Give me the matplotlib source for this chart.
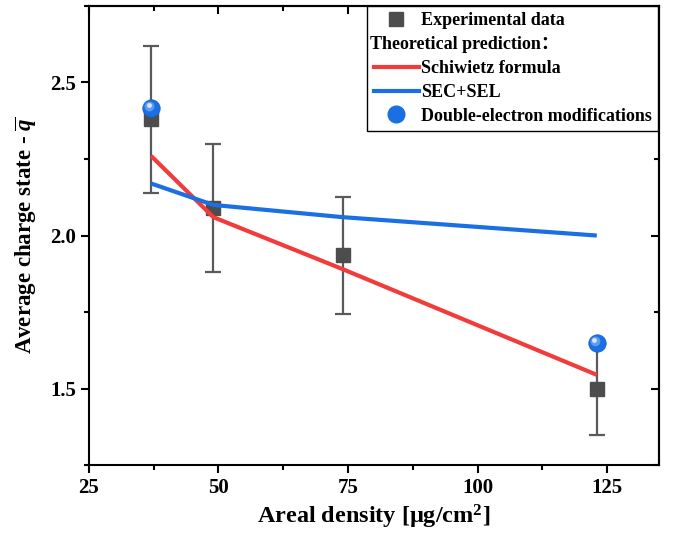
import matplotlib
matplotlib.use("Agg")
import matplotlib.pyplot as plt
from matplotlib import transforms
from matplotlib.lines import Line2D
from matplotlib.ticker import MultipleLocator

plt.rcParams['font.family'] = ['Liberation Serif', 'DejaVu Serif']
plt.rcParams['font.weight'] = 'bold'
plt.rcParams['mathtext.fontset'] = 'custom'
plt.rcParams['mathtext.rm'] = 'Liberation Serif:bold'
plt.rcParams['mathtext.it'] = 'Liberation Serif:italic:bold'
plt.rcParams['mathtext.bf'] = 'Liberation Serif:bold'

# Data
exp_x = [37, 49, 74, 123]
exp_y = [2.38, 2.09, 1.935, 1.50]
exp_err = [0.24, 0.21, 0.19, 0.15]

schiwietz_x = [37, 49, 74, 123]
schiwietz_y = [2.26, 2.06, 1.89, 1.545]

sec_x = [37, 49, 74, 123]
sec_y = [2.17, 2.10, 2.06, 2.00]

dbl_x = [37, 123]
dbl_y = [2.415, 1.65]

legend_labels = ['Experimental data', ' ', 'Schiwietz formula', 'SEC+SEL',
                 'Double-electron modifications']

fig = plt.figure(figsize=(6.79, 5.39), dpi=100)
ax = fig.add_axes([0.131, 0.137, 0.8395, 0.852])

red = '#f23c3c'
blue = '#1a6fe3'
gray = '#4d4d4d'

ax.errorbar(exp_x, exp_y, yerr=exp_err, fmt='s', color=gray, ms=10,
            ecolor='#5a5a5a', elinewidth=1.6, capsize=6, capthick=1.6, zorder=2)
ax.plot(schiwietz_x, schiwietz_y, color=red, lw=3, zorder=3,
        solid_capstyle='butt')
ax.plot(sec_x, sec_y, color=blue, lw=3, zorder=3, solid_capstyle='butt')

# sphere-like markers
ax.plot(dbl_x, dbl_y, 'o', color=blue, ms=12.5, mec='#1463d8', mew=0.6, zorder=4)
hl1 = transforms.offset_copy(ax.transData, fig=fig, x=-1.2, y=1.5, units='points')
ax.plot(dbl_x, dbl_y, 'o', color='#6fa6f5', ms=7, mec='none', alpha=0.8,
        transform=hl1, zorder=5)
hl2 = transforms.offset_copy(ax.transData, fig=fig, x=-1.8, y=2.2, units='points')
ax.plot(dbl_x, dbl_y, 'o', color='#e6f0ff', ms=3.5, mec='none', alpha=0.9,
        transform=hl2, zorder=6)

ax.set_xlim(25, 135)
ax.set_ylim(1.25, 2.75)
ax.xaxis.set_major_locator(MultipleLocator(25))
ax.xaxis.set_minor_locator(MultipleLocator(12.5))
ax.yaxis.set_major_locator(MultipleLocator(0.5))
ax.yaxis.set_minor_locator(MultipleLocator(0.25))

ax.tick_params(which='both', direction='out', width=1.5, labelsize=15,
               top=False, right=False)
ax.tick_params(which='major', length=6)
ax.tick_params(which='minor', length=3.5)
ax2 = ax.secondary_xaxis('top')
ax2.xaxis.set_major_locator(MultipleLocator(25))
ax2.xaxis.set_minor_locator(MultipleLocator(12.5))
ax2.tick_params(which='both', direction='in', width=1.5, labeltop=False)
ax2.tick_params(which='major', length=6)
ax2.tick_params(which='minor', length=3.5)
ax3 = ax.secondary_yaxis('right')
ax3.yaxis.set_major_locator(MultipleLocator(0.5))
ax3.yaxis.set_minor_locator(MultipleLocator(0.25))
ax3.tick_params(which='both', direction='in', width=1.5, labelright=False)
ax3.tick_params(which='major', length=6)
ax3.tick_params(which='minor', length=3.5)
for a in (ax, ax2, ax3):
    for s in a.spines.values():
        s.set_linewidth(1.5)

for lab in ax.get_xticklabels() + ax.get_yticklabels():
    lab.set_fontweight('bold')

ax.set_xlabel(r'Areal density [μg/cm$^\mathbf{2}$]', fontsize=17.5,
              fontweight='bold', labelpad=3)
ax.set_ylabel(r'Average charge state - $\overline{q}$', fontsize=16.5,
              fontweight='bold', labelpad=8)

# legend
h_exp = Line2D([], [], marker='s', color=gray, ls='none', ms=10)
h_blank = Line2D([], [], color='none')
h_red = Line2D([], [], color=red, lw=3)
h_blue = Line2D([], [], color=blue, lw=3)
h_dbl = Line2D([], [], marker='o', color=blue, ls='none', ms=12)
leg = ax.legend([h_exp, h_blank, h_red, h_blue, h_dbl], legend_labels,
                loc='upper right', bbox_to_anchor=(0.998, 1.0), borderaxespad=0,
                fancybox=False, edgecolor='black', framealpha=1,
                prop={'family': 'Liberation Serif', 'weight': 'bold', 'size': 13},
                handlelength=2.5, handletextpad=0.1, labelspacing=0.38,
                borderpad=0.35)
leg.get_frame().set_linewidth(1.0)
fig.canvas.draw()
bb = leg.get_window_extent()
texts = leg.get_texts()
tb = texts[1].get_window_extent()
inv = ax.transAxes.inverted()
x0, _ = inv.transform((bb.x0 + 3, 0))
_, yc = inv.transform((0, (tb.y0 + tb.y1) / 2))
ax.text(x0, yc, 'Theoretical prediction：', transform=ax.transAxes,
        fontsize=13, fontweight='bold', va='center', ha='left',
        family=['Liberation Serif', 'Noto Sans CJK SC'], zorder=10)

fig.savefig('out.png', dpi=100)
